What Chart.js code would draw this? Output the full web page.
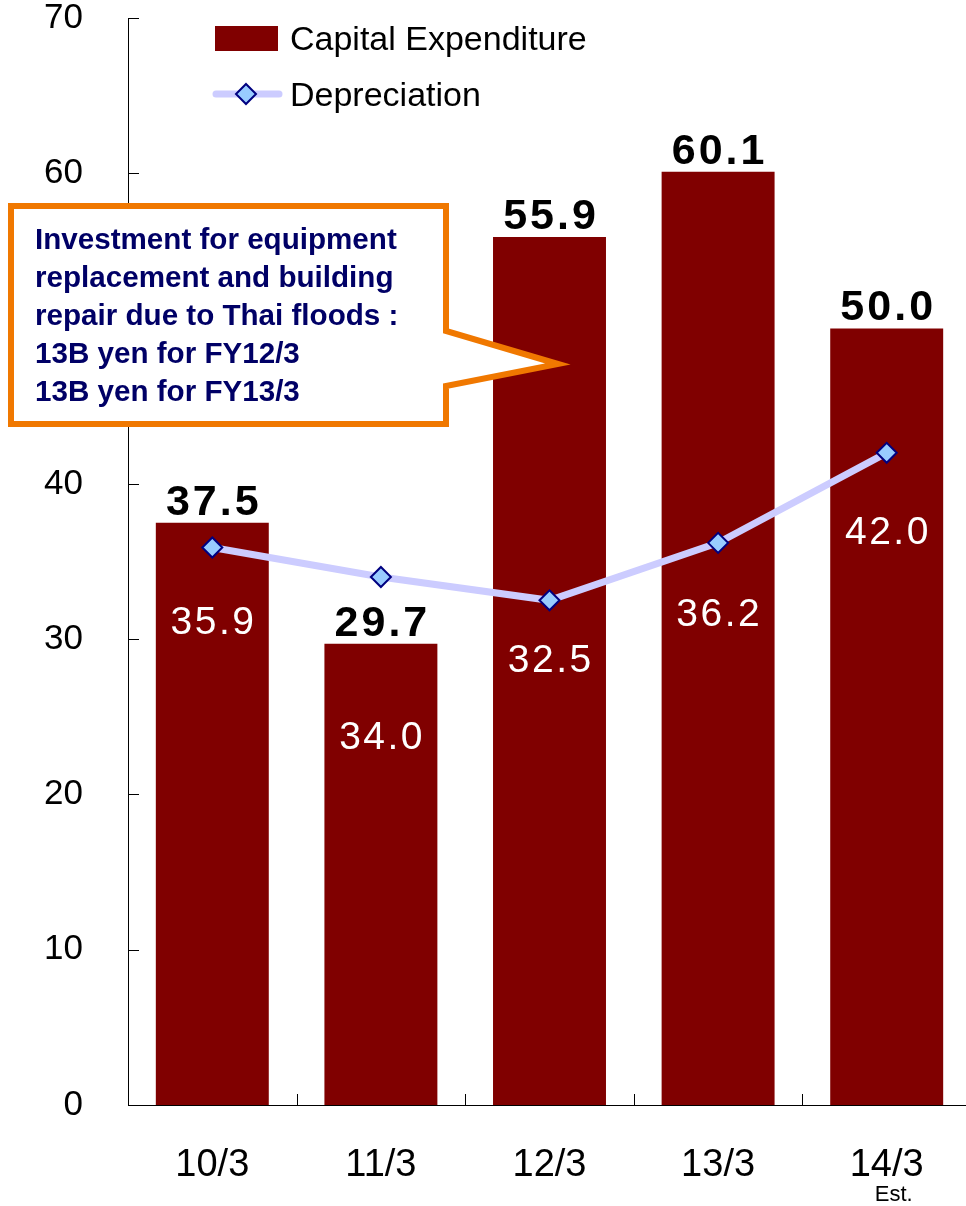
<!DOCTYPE html>
<html>
<head>
<meta charset="utf-8">
<script src="https://cdn.jsdelivr.net/npm/chart.js@4/dist/chart.umd.min.js"></script>
<style>
  html, body { margin: 0; padding: 0; background: #fff; overflow: hidden; }
  #wrap { width: 983px; height: 1206px; }
</style>
</head>
<body>
<div id="wrap"><canvas id="c" width="983" height="1206"></canvas></div>
<script>
const categories = ['10/3', '11/3', '12/3', '13/3', '14/3'];
const categoryNotes = ['', '', '', '', 'Est.'];
const capexValues = [37.5, 29.7, 55.9, 60.1, 50.0];
const depreciationValues = [35.9, 34.0, 32.5, 36.2, 42.0];
const yTicks = [0, 10, 20, 30, 40, 50, 60, 70];
const seriesNames = ['Capital Expenditure', 'Depreciation'];
const calloutLines = [
  'Investment for equipment',
  'replacement and building',
  'repair due to Thai floods :',
  '13B yen for FY12/3',
  '13B yen for FY13/3'
];

// style constants (pixel offsets of depreciation labels below their points)
const deprLabelOffset = [76, 161, 61, 72, 80];

const BAR_COLOR = '#800000';
const LINE_COLOR = '#CCCCFF';
const PT_FILL = '#99CCFF';
const PT_BORDER = '#000080';
const FONT = '"Liberation Sans", Arial, sans-serif';

const overlay = {
  id: 'overlay',
  afterDraw(chart) {
    const ctx = chart.ctx;
    const xs = chart.scales.x, ys = chart.scales.y;
    const area = chart.chartArea;
    ctx.save();
    // inward tick marks
    ctx.strokeStyle = '#000';
    ctx.lineWidth = 1;
    ctx.beginPath();
    yTicks.forEach(v => {
      const y = Math.round(ys.getPixelForValue(v)) + 0.5;
      ctx.moveTo(area.left, y); ctx.lineTo(area.left + 11, y);
    });
    for (let i = 1; i < categories.length; i++) {
      const x = Math.round((xs.getPixelForValue(i - 1) + xs.getPixelForValue(i)) / 2) + 0.5;
      ctx.moveTo(x, area.bottom); ctx.lineTo(x, area.bottom - 11);
    }
    ctx.stroke();

    // bar value labels
    const barMeta = chart.getDatasetMeta(0);
    ctx.textAlign = 'center';
    ctx.textBaseline = 'middle';
    ctx.fillStyle = '#000';
    ctx.font = 'bold 43px ' + FONT;
    ctx.letterSpacing = '3px';
    barMeta.data.forEach((el, i) => {
      ctx.fillText(capexValues[i].toFixed(1), el.x + 1.5, el.y - 20);
    });
    // depreciation labels
    const lineMeta = chart.getDatasetMeta(1);
    ctx.fillStyle = '#fff';
    ctx.font = '39px ' + FONT;
    ctx.letterSpacing = '2.5px';
    lineMeta.data.forEach((el, i) => {
      ctx.fillText(depreciationValues[i].toFixed(1), el.x + 1.2, el.y + deprLabelOffset[i]);
    });
    ctx.letterSpacing = '0px';

    // "Est." note under the last category
    ctx.fillStyle = '#000';
    ctx.font = '22px ' + FONT;
    categoryNotes.forEach((n, i) => {
      if (n) ctx.fillText(n, xs.getPixelForValue(i) + 7, 1195);
    });

    // legend
    ctx.textAlign = 'left';
    ctx.font = '34px ' + FONT;
    ctx.fillStyle = BAR_COLOR;
    ctx.fillRect(215, 26, 63, 25);
    ctx.fillStyle = '#000';
    ctx.fillText(seriesNames[0], 290, 41);
    ctx.strokeStyle = LINE_COLOR;
    ctx.lineWidth = 7;
    ctx.lineCap = 'round';
    ctx.beginPath(); ctx.moveTo(216, 94); ctx.lineTo(279, 94); ctx.stroke();
    ctx.lineCap = 'butt';
    drawDiamond(ctx, 246, 94, 10);
    ctx.fillStyle = '#000';
    ctx.fillText(seriesNames[1], 290, 97);

    // callout
    ctx.beginPath();
    ctx.moveTo(11, 206);
    ctx.lineTo(446, 206);
    ctx.lineTo(446, 331);
    ctx.lineTo(558, 364);
    ctx.lineTo(446, 386);
    ctx.lineTo(446, 424);
    ctx.lineTo(11, 424);
    ctx.closePath();
    ctx.fillStyle = '#fff';
    ctx.fill();
    ctx.strokeStyle = '#F07800';
    ctx.lineWidth = 6;
    ctx.lineJoin = 'miter';
    ctx.stroke();
    ctx.fillStyle = '#000066';
    ctx.font = 'bold 29.6px ' + FONT;
    ctx.textBaseline = 'middle';
    calloutLines.forEach((t, i) => ctx.fillText(t, 35, 241 + i * 38));
    ctx.restore();
  }
};

function drawDiamond(ctx, x, y, r) {
  ctx.beginPath();
  ctx.moveTo(x, y - r); ctx.lineTo(x + r, y); ctx.lineTo(x, y + r); ctx.lineTo(x - r, y);
  ctx.closePath();
  ctx.fillStyle = PT_FILL; ctx.fill();
  ctx.strokeStyle = PT_BORDER; ctx.lineWidth = 2; ctx.stroke();
}

new Chart(document.getElementById('c'), {
  data: {
    labels: categories,
    datasets: [
      {
        type: 'bar',
        label: seriesNames[0],
        data: capexValues,
        backgroundColor: BAR_COLOR,
        borderWidth: 0,
        barPercentage: 0.67,
        categoryPercentage: 1.0,
        order: 2
      },
      {
        type: 'line',
        label: seriesNames[1],
        data: depreciationValues,
        borderColor: LINE_COLOR,
        borderWidth: 7,
        tension: 0,
        pointStyle: 'rectRot',
        pointRadius: 10,
        pointHoverRadius: 10,
        pointBackgroundColor: PT_FILL,
        pointBorderColor: PT_BORDER,
        pointBorderWidth: 2,
        order: 1
      }
    ]
  },
  options: {
    responsive: false,
    animation: false,
    devicePixelRatio: 1,
    layout: { padding: { top: 18, right: 0, left: 0, bottom: 0 } },
    plugins: { legend: { display: false }, tooltip: { enabled: false } },
    scales: {
      x: {
        type: 'category',
        offset: true,
        grid: { display: false, drawTicks: false },
        border: { display: true, color: '#000', width: 1 },
        ticks: { color: '#000', font: { family: FONT, size: 38 }, padding: 38, maxRotation: 0 },
        afterFit(s) { s.height = 101; s.paddingLeft = 0; s.paddingRight = 0; }
      },
      y: {
        min: 0, max: 70,
        grid: { display: false, drawTicks: false },
        border: { display: true, color: '#000', width: 1 },
        ticks: { stepSize: 10, color: '#000', font: { family: FONT, size: 35 }, padding: 45 },
        afterFit(s) { s.width = 128; s.paddingTop = 0; s.paddingBottom = 0; }
      }
    }
  },
  plugins: [overlay]
});
</script>
</body>
</html>
